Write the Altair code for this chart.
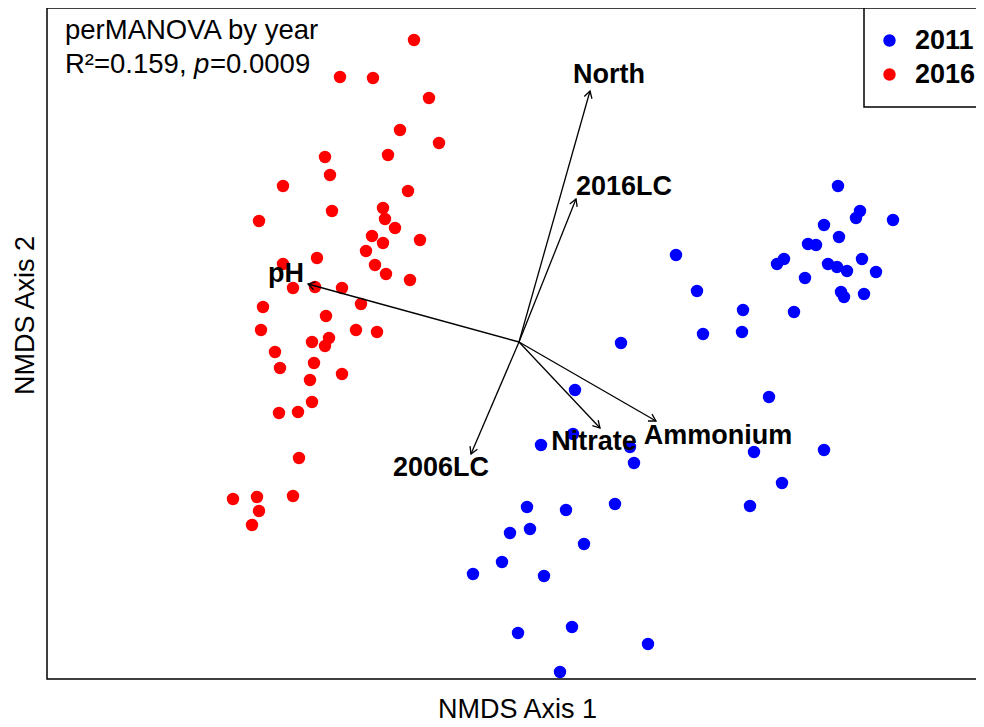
import math
import altair as alt
import pandas as pd

# ---------------- data (NMDS scores) ----------------
YEARS = ["2011", "2016"]
COLORS = ["#0000FF", "#FF0000"]

X_2016 = [-0.525, -0.895, -0.73, -0.45, -0.595, -0.40, -0.97, -0.655, -0.945, -1.18,
          -0.555, -0.935, -0.68, -1.30, -0.67, -0.62, -0.735, -0.68, -0.495, -0.765,
          -1.01, -1.18, -0.72, -0.665, -0.545, -1.13, -1.02, -0.885, -0.79, -1.28,
          -0.965, -1.29, -0.815, -0.71, -1.035, -0.95, -0.97, -1.22, -1.025, -1.195,
          -1.045, -0.885, -1.035, -1.20, -1.105, -1.10, -1.43, -1.31, -1.13, -1.30, -1.335]
Y_2016 = [1.51, 1.325, 1.32, 1.22, 1.06, 0.995, 0.925, 0.935, 0.835, 0.78,
          0.755, 0.655, 0.67, 0.605, 0.615, 0.57, 0.53, 0.495, 0.51, 0.455,
          0.42, 0.39, 0.385, 0.34, 0.31, 0.27, 0.275, 0.27, 0.19, 0.175,
          0.13, 0.06, 0.06, 0.05, 0.0, 0.02, -0.02, -0.05, -0.105, -0.13,
          -0.19, -0.16, -0.30, -0.355, -0.35, -0.58, -0.785, -0.775, -0.77, -0.845, -0.915]

X_2011 = [1.595, 1.705, 1.685, 1.87, 1.525, 1.60, 1.445, 1.485, 0.785, 1.325,
          1.29, 1.545, 1.59, 1.64, 1.715, 1.785, 1.43, 0.89, 1.61, 1.625,
          1.725, 1.12, 1.375, 0.92, 1.115, 0.51, 0.28, 1.25, 0.27, 0.11,
          0.555, 0.575, 1.175, 1.525, 1.315, 0.04, 0.235, 0.48, 1.155, -0.045,
          0.055, 0.325, -0.085, -0.23, 0.125, -0.005, 0.265, 0.645, 0.205]
Y_2011 = [0.78, 0.655, 0.62, 0.61, 0.585, 0.525, 0.49, 0.485, 0.435, 0.415,
          0.39, 0.39, 0.375, 0.355, 0.415, 0.35, 0.32, 0.255, 0.25, 0.225,
          0.24, 0.16, 0.15, 0.04, 0.05, -0.005, -0.24, -0.275, -0.46, -0.515,
          -0.525, -0.605, -0.55, -0.54, -0.705, -0.825, -0.84, -0.81, -0.82, -0.955,
          -0.935, -1.01, -1.10, -1.16, -1.17, -1.455, -1.425, -1.51, -1.65]

VECTOR_NAMES = ["North", "2016LC", "pH", "2006LC", "Nitrate", "Ammonium"]
VECTOR_X = [0.355, 0.285, -1.055, -0.24, 0.405, 0.685]
VECTOR_Y = [1.255, 0.715, 0.29, -0.56, -0.43, -0.395]
LABEL_X = [0.45, 0.525, -1.165, -0.39, 0.375, 0.995]
LABEL_Y = [1.335, 0.775, 0.34, -0.63, -0.50, -0.47]

X_DOMAIN = [-2.36, 2.405]
Y_DOMAIN = [-1.685, 1.67]

ANNOT_LINE1 = "perMANOVA by year"
ANNOT_LINE2 = ["R\u00b2=0.159, ", "p", "=0.0009"]
X_TITLE = "NMDS Axis 1"
Y_TITLE = "NMDS Axis 2"

FONT = "Liberation Sans"

# ---------------- tables ----------------
points = pd.concat([
    pd.DataFrame({"x": X_2011, "y": Y_2011, "year": YEARS[0]}),
    pd.DataFrame({"x": X_2016, "y": Y_2016, "year": YEARS[1]}),
], ignore_index=True)

vec = pd.DataFrame({"name": VECTOR_NAMES, "x": VECTOR_X, "y": VECTOR_Y,
                    "lx": LABEL_X, "ly": LABEL_Y})
vec["x0"] = 0.0
vec["y0"] = 0.0
vec["ang"] = [(math.degrees(math.atan2(-b, a)) + 360) % 360 for a, b in zip(vec.x, vec.y)]

xs = alt.Scale(domain=X_DOMAIN, nice=False, zero=False)
ys = alt.Scale(domain=Y_DOMAIN, nice=False, zero=False)

x_axis = alt.Axis(title=X_TITLE, labels=False, ticks=False, domain=False, grid=False,
                  titleFont=FONT, titleFontSize=27, titleFontWeight="normal",
                  titleColor="black", titleX=470, titleY=38,
                  titleBaseline="alphabetic", titleAlign="center")
y_axis = alt.Axis(title=Y_TITLE, labels=False, ticks=False, domain=False, grid=False,
                  titleFont=FONT, titleFontSize=27, titleFontWeight="normal",
                  titleColor="black", titleX=-14, titleY=307, titleAngle=270,
                  titleBaseline="alphabetic", titleAlign="center")


def X(field):
    return alt.X(field, scale=xs, axis=x_axis, title=X_TITLE)


def Y(field):
    return alt.Y(field, scale=ys, axis=y_axis, title=Y_TITLE)


pts = alt.Chart(points).mark_circle(size=154, opacity=1).encode(
    x=X("x:Q"), y=Y("y:Q"),
    color=alt.Color("year:N", scale=alt.Scale(domain=YEARS, range=COLORS),
                    legend=alt.Legend(title=None, orient="none", legendX=817, legendY=0,
                                      direction="vertical", padding=19,
                                      strokeColor="black", fillColor="white",
                                      symbolType="circle", symbolSize=154,
                                      symbolOpacity=1, symbolStrokeWidth=0,
                                      symbolOffset=-7,
                                      labelFont=FONT, labelFontSize=27,
                                      labelFontWeight="bold", labelColor="black",
                                      labelOffset=12, rowPadding=6, cornerRadius=0)),
)

rules = alt.Chart(vec).mark_rule(color="black", strokeWidth=1.3).encode(
    x=X("x0:Q"), y=Y("y0:Q"), x2="x:Q", y2="y:Q")

heads = alt.Chart(vec).mark_point(
    shape="M -0.866 -0.5 L 0 0 L -0.866 0.5", filled=False, color="black",
    strokeWidth=1.3, size=256, opacity=1).encode(
    x=X("x:Q"), y=Y("y:Q"), angle=alt.Angle("ang:Q", scale=None))

labels = alt.Chart(vec).mark_text(font=FONT, fontSize=27, fontWeight="bold",
                                  color="black", align="center",
                                  baseline="middle").encode(
    x=X("lx:Q"), y=Y("ly:Q"), text="name:N")


def annot(txt, px, py, style="normal"):
    return alt.Chart(pd.DataFrame({"t": [txt]})).mark_text(
        font=FONT, fontSize=27.5, fontStyle=style, color="black",
        align="left", baseline="alphabetic").encode(
        x=alt.value(px), y=alt.value(py), text="t:N")


a1 = annot(ANNOT_LINE1, 18, 30.5)
a2 = annot(ANNOT_LINE2[0], 18, 64.5)
a3 = annot(ANNOT_LINE2[1], 147, 64.5, "italic")
a4 = annot(ANNOT_LINE2[2], 163, 64.5)

chart = alt.layer(pts, rules, heads, labels, a1, a2, a3, a4).properties(
    width=953, height=671,
    autosize=alt.AutoSizeParams(type="none"),
    padding={"left": 39, "top": 0, "right": -24, "bottom": 40},
).configure(font=FONT, background="white").configure_view(
    stroke="black", strokeWidth=1.5
).configure_legend(strokeWidth=1.5)

chart.save("out.html", embed_options={"renderer": "svg", "actions": False})
